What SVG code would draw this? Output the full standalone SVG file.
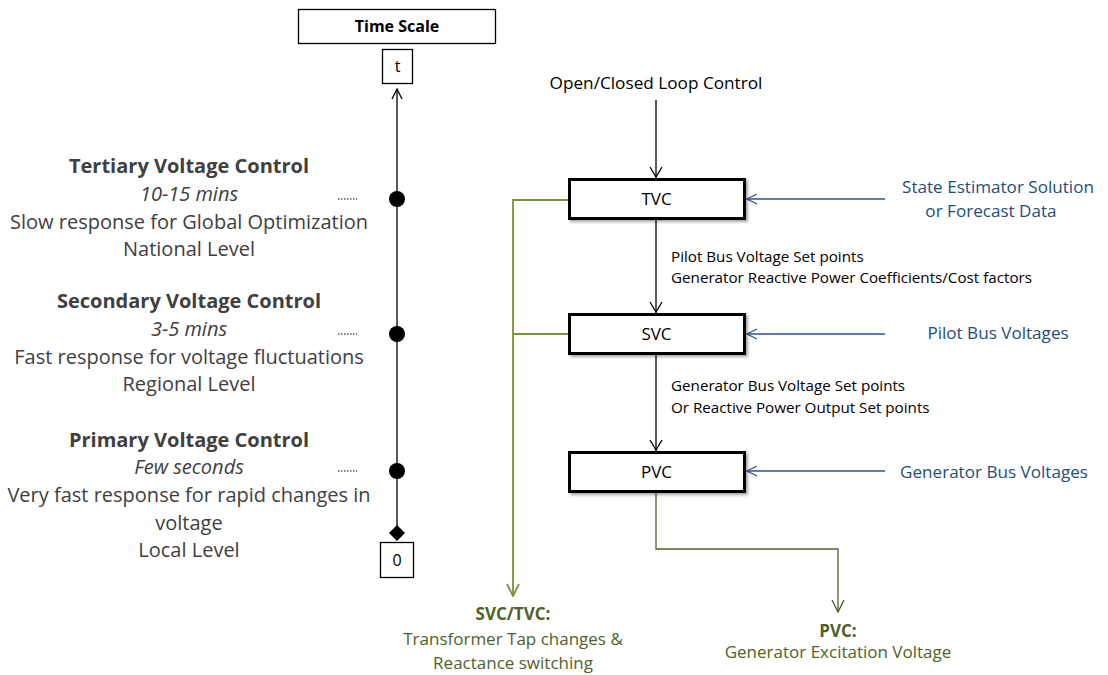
<svg xmlns="http://www.w3.org/2000/svg" width="1108" height="675" viewBox="0 0 1108 675">
  <style>
    .txt { font-family: "Open Sans", "Liberation Sans", Arial, sans-serif; }
    .lbl { font-family: "Open Sans", "Liberation Sans", Arial, sans-serif; font-size: 20px; fill: #404040; text-anchor: middle; }
    .lbl-b { font-weight: bold; }
    .lbl-i { font-style: italic; }
    .box { fill: #ffffff; stroke: #000000; stroke-width: 1.3; }
    .ctl { fill: #ffffff; stroke: #000000; stroke-width: 3; }
    .ctl-t { font-family: "Open Sans", "Liberation Sans", Arial, sans-serif; font-size: 17px; fill: #000; text-anchor: middle; }
    .small { font-family: "Open Sans", "Liberation Sans", Arial, sans-serif; font-size: 15.2px; fill: #000; }
    .blue { font-family: "Open Sans", "Liberation Sans", Arial, sans-serif; font-size: 17.1px; fill: #1F4E79; text-anchor: middle; }
    .green { font-family: "Open Sans", "Liberation Sans", Arial, sans-serif; font-size: 17px; fill: #4F6228; text-anchor: middle; }
    .k { stroke: #000; stroke-width: 1.3; fill: none; }
    .b { stroke: #2F5597; stroke-width: 1.3; fill: none; }
    .g { stroke: #77933C; stroke-width: 1.8; fill: none; }
    .g2 { stroke: #4F6228; stroke-width: 1.3; fill: none; }
  </style>
  <defs>
    <marker id="ak" viewBox="0 0 12 12" refX="11" refY="6" markerWidth="12" markerHeight="12" markerUnits="userSpaceOnUse" orient="auto">
      <polyline points="1,1 11,6 1,11" fill="none" stroke="#000" stroke-width="1.3"/>
    </marker>
    <marker id="ab" viewBox="0 0 12 12" refX="11" refY="6" markerWidth="12" markerHeight="12" markerUnits="userSpaceOnUse" orient="auto">
      <polyline points="1,1 11,6 1,11" fill="none" stroke="#2F5597" stroke-width="1.3"/>
    </marker>
    <marker id="ag" viewBox="0 0 14 14" refX="13" refY="7" markerWidth="14" markerHeight="14" markerUnits="userSpaceOnUse" orient="auto">
      <polyline points="1,1 13,7 1,13" fill="none" stroke="#77933C" stroke-width="1.8"/>
    </marker>
    <marker id="ag2" viewBox="0 0 14 14" refX="13" refY="7" markerWidth="14" markerHeight="14" markerUnits="userSpaceOnUse" orient="auto">
      <polyline points="1,1 13,7 1,13" fill="none" stroke="#4F6228" stroke-width="1.4"/>
    </marker>
    <filter id="sh" x="-10%" y="-20%" width="130%" height="160%">
      <feGaussianBlur in="SourceAlpha" stdDeviation="1.5"/>
      <feOffset dx="2" dy="2" result="o"/>
      <feComponentTransfer><feFuncA type="linear" slope="0.35"/></feComponentTransfer>
      <feMerge><feMergeNode/><feMergeNode in="SourceGraphic"/></feMerge>
    </filter>
  </defs>

  <!-- time axis -->
  <g id="timeline">
    <g id="time-scale">
      <rect class="box" x="298.5" y="9.5" width="197" height="34"/>
      <text class="txt" x="397" y="32" font-size="16" font-weight="bold" text-anchor="middle">Time Scale</text>
    </g>
    <g id="t-box">
      <rect class="box" x="382.5" y="49.5" width="30" height="34"/>
      <text class="txt" x="397.5" y="72" font-size="16" text-anchor="middle">t</text>
    </g>
    <line class="k" x1="397" y1="531" x2="397" y2="89" marker-end="url(#ak)"/>
    <path d="M397,525 L405,533 L397,541 L389,533 Z" fill="#000"/>
    <g id="zero-box">
      <rect class="box" x="380.5" y="542.5" width="33" height="35"/>
      <text class="txt" x="397" y="566" font-size="16" text-anchor="middle">0</text>
    </g>
    <g fill="#000">
      <circle cx="397" cy="199" r="8"/>
      <circle cx="397" cy="334" r="8"/>
      <circle cx="397" cy="471" r="8"/>
    </g>
    <g stroke="#000" stroke-width="1.2" stroke-dasharray="1.5,1.5">
      <line x1="338" y1="199" x2="357" y2="199"/>
      <line x1="338" y1="334" x2="357" y2="334"/>
      <line x1="338" y1="471" x2="357" y2="471"/>
    </g>
  </g>

  <!-- level descriptions -->
  <g id="tertiary">
    <text class="lbl lbl-b" x="189" y="173">Tertiary Voltage Control</text>
    <text class="lbl lbl-i" x="189" y="201">10-15 mins</text>
    <text class="lbl" x="189" y="229">Slow response for Global Optimization</text>
    <text class="lbl" x="189" y="256">National Level</text>
  </g>
  <g id="secondary">
    <text class="lbl lbl-b" x="189" y="308">Secondary Voltage Control</text>
    <text class="lbl lbl-i" x="189" y="336">3-5 mins</text>
    <text class="lbl" x="189" y="364">Fast response for voltage fluctuations</text>
    <text class="lbl" x="189" y="391">Regional Level</text>
  </g>
  <g id="primary">
    <text class="lbl lbl-b" x="189" y="447">Primary Voltage Control</text>
    <text class="lbl lbl-i" x="189" y="474">Few seconds</text>
    <text class="lbl" x="189" y="502">Very fast response for rapid changes in</text>
    <text class="lbl" x="189" y="530">voltage</text>
    <text class="lbl" x="189" y="557">Local Level</text>
  </g>

  <!-- connectors -->
  <g id="connectors">
    <line class="k" x1="656" y1="100" x2="656" y2="178"/>
    <line class="k" x1="656" y1="219" x2="656" y2="313"/>
    <line class="k" x1="656" y1="354" x2="656" y2="451"/>
    <polyline points="650,167 656,177 662,167" class="k"/>
    <polyline points="650,302 656,312 662,302" class="k"/>
    <polyline points="650,440 656,450 662,440" class="k"/>

    <line class="b" x1="885" y1="199" x2="747" y2="199" marker-end="url(#ab)"/>
    <line class="b" x1="885" y1="334" x2="747" y2="334" marker-end="url(#ab)"/>
    <line class="b" x1="885" y1="471" x2="747" y2="471" marker-end="url(#ab)"/>

    <polyline class="g" points="569,200 513,200 513,596" marker-end="url(#ag)"/>
    <line class="g" x1="569" y1="334" x2="513" y2="334"/>
    <polyline class="g2" points="656,492 656,549 838,549 838,612" marker-end="url(#ag2)"/>
  </g>

  <!-- control blocks -->
  <g id="open-closed">
    <text class="txt" x="656" y="89" font-size="17.2" text-anchor="middle">Open/Closed Loop Control</text>
  </g>
  <g id="tvc">
    <rect class="ctl" x="569.5" y="179.5" width="175" height="39" filter="url(#sh)"/>
    <text class="ctl-t" x="656.5" y="205">TVC</text>
  </g>
  <g id="svc">
    <rect class="ctl" x="569.5" y="314.5" width="175" height="39" filter="url(#sh)"/>
    <text class="ctl-t" x="656.5" y="340">SVC</text>
  </g>
  <g id="pvc">
    <rect class="ctl" x="569.5" y="452.5" width="175" height="39" filter="url(#sh)"/>
    <text class="ctl-t" x="656.5" y="478">PVC</text>
  </g>

  <g id="tvc-svc-label">
    <text class="small" x="671" y="262">Pilot Bus Voltage Set points</text>
    <text class="small" x="671" y="283">Generator Reactive Power Coefficients/Cost factors</text>
  </g>
  <g id="svc-pvc-label">
    <text class="small" x="671" y="391">Generator Bus Voltage Set points</text>
    <text class="small" x="671" y="413">Or Reactive Power Output Set points</text>
  </g>

  <!-- measurement inputs -->
  <g id="state-estimator">
    <text class="blue" x="998" y="193">State Estimator Solution</text>
    <text class="blue" x="991" y="217">or Forecast Data</text>
  </g>
  <g id="pilot-bus">
    <text class="blue" x="998" y="339">Pilot Bus Voltages</text>
  </g>
  <g id="gen-bus">
    <text class="blue" x="994" y="478">Generator Bus Voltages</text>
  </g>

  <!-- actuation outputs -->
  <g id="svc-tvc-out">
    <text class="green" x="513" y="620" font-weight="bold">SVC/TVC:</text>
    <text class="green" x="513" y="645">Transformer Tap changes &amp;</text>
    <text class="green" x="513" y="669">Reactance switching</text>
  </g>
  <g id="pvc-out">
    <text class="green" x="838" y="637" font-weight="bold">PVC:</text>
    <text class="green" x="838" y="658">Generator Excitation Voltage</text>
  </g>
</svg>
